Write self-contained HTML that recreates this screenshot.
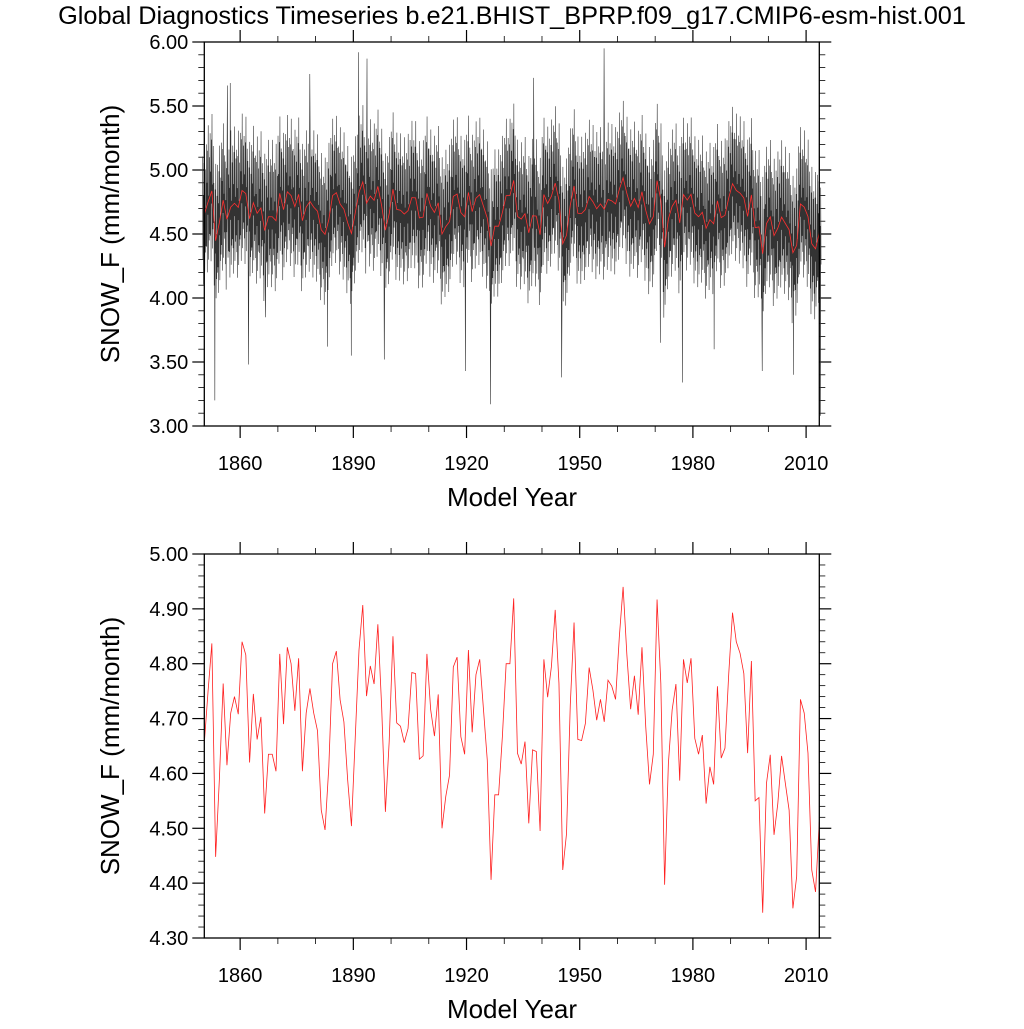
<!DOCTYPE html>
<html><head><meta charset="utf-8"><style>
html,body{margin:0;padding:0;background:#fff;}
svg text{font-family:"Liberation Sans",sans-serif;fill:#000;}
</style></head><body>
<svg id="chart" width="1024" height="1024" viewBox="0 0 1024 1024" xmlns="http://www.w3.org/2000/svg">
<text x="512" y="24" font-size="25.3" text-anchor="middle">Global Diagnostics Timeseries b.e21.BHIST_BPRP.f09_g17.CMIP6-esm-hist.001</text>
<g id="top"></g>
<g id="bot"></g>
</svg>
<script>
const startYear = 1850;
const annualMeans = [4.655,4.75,4.837,4.448,4.59,4.764,4.615,4.71,4.74,4.708,4.84,4.816,4.62,4.745,4.662,4.703,4.527,4.635,4.635,4.604,
4.818,4.69,4.83,4.80,4.714,4.81,4.604,4.71,4.755,4.71,4.678,4.533,4.497,4.612,4.80,4.823,4.734,4.694,4.588,4.504,
4.664,4.825,4.907,4.741,4.796,4.763,4.872,4.722,4.53,4.658,4.85,4.692,4.686,4.656,4.682,4.784,4.782,4.626,4.632,4.818,
4.716,4.668,4.744,4.50,4.558,4.597,4.794,4.812,4.667,4.635,4.825,4.675,4.78,4.808,4.716,4.624,4.406,4.561,4.561,4.667,
4.80,4.80,4.919,4.637,4.617,4.658,4.509,4.643,4.64,4.495,4.808,4.739,4.795,4.898,4.764,4.424,4.49,4.725,4.875,4.662,
4.66,4.691,4.793,4.752,4.697,4.735,4.694,4.77,4.759,4.735,4.849,4.94,4.816,4.717,4.778,4.707,4.83,4.685,4.58,4.635,
4.917,4.764,4.397,4.618,4.716,4.763,4.587,4.808,4.765,4.81,4.664,4.635,4.67,4.545,4.612,4.58,4.759,4.628,4.646,4.782,
4.893,4.84,4.819,4.782,4.637,4.805,4.55,4.556,4.346,4.582,4.634,4.488,4.545,4.632,4.582,4.533,4.354,4.412,4.735,4.71,
4.637,4.424,4.384,4.512];
const monthlyAnomaly = [0.45,-0.35,0.15,-0.55,0.4,-0.1,0.6,-0.45,0.05,-0.3,0.35,-0.25];
const extremeYears  = [1853.3,1856.6,1857.4,1862.2,1866.7,1878.5,1883.1,1889.5,1891.4,1893.6,1898.2,1919.7,1926.4,1937.8,1945.2,1956.5,1971.4,1977.2,1985.6,1998.4,2006.6,2013.8];
const extremeValues = [3.20,5.66,5.68,3.48,3.85,5.75,3.62,3.55,5.92,5.87,3.52,3.43,3.17,5.72,3.38,5.95,3.65,3.34,3.60,3.43,3.40,3.08];
const xTickYears = [1860,1890,1920,1950,1980,2010];
const topYTicks = ["3.00","3.50","4.00","4.50","5.00","5.50","6.00"];
const botYTicks = ["4.30","4.40","4.50","4.60","4.70","4.80","4.90","5.00"];

const NS="http://www.w3.org/2000/svg";
function mk(parent,tag,attrs){const e=document.createElementNS(NS,tag);for(const k in attrs)e.setAttribute(k,attrs[k]);parent.appendChild(e);return e;}
const X0=204.3,X1=819.3,XMIN=1850.5,XMAX=2013.5;
const xs=v=>X0+(v-XMIN)/(XMAX-XMIN)*(X1-X0);

function panel(g,top,bottom,ymin,ymax,yTicks,minorStep){
  const ys=v=>bottom-(v-ymin)/(ymax-ymin)*(bottom-top);
  for(let yr=1860;yr<=2010;yr+=10){
    const x=xs(yr),maj=(yr-1860)%30===0,L=maj?12:6;
    const t1=mk(g,'line',{x1:x,x2:x,y1:bottom,y2:bottom+L,stroke:'#000','stroke-width':maj?1.2:0.8});
    
    
    const t2=mk(g,'line',{x1:x,x2:x,y1:top,y2:top-L,stroke:'#000','stroke-width':maj?1.2:0.8});
    
    
  }
  xTickYears.forEach(yr=>{
    const t=mk(g,'text',{x:xs(yr),y:bottom+44,'font-size':20,'text-anchor':'middle'});t.textContent=yr;
    
    
  });
  const nMin=Math.round((ymax-ymin)/minorStep);
  for(let i=0;i<=nMin;i++){
    const v=ymin+i*minorStep,y=ys(v);
    const maj=yTicks.some(s=>Math.abs(parseFloat(s)-v)<1e-6),L=maj?12:6;
    const a=mk(g,'line',{x1:X0-L,x2:X0,y1:y,y2:y,stroke:'#000','stroke-width':maj?1.2:0.8});
    
    
    const b=mk(g,'line',{x1:X1,x2:X1+L,y1:y,y2:y,stroke:'#000','stroke-width':maj?1.2:0.8});
    
    
  }
  yTicks.forEach(s=>{
    const t=mk(g,'text',{x:X0-16,y:ys(parseFloat(s))+7,'font-size':20,'text-anchor':'end'});t.textContent=s;
    
    
  });
  const xt=mk(g,'text',{x:512,y:bottom+80,'font-size':26,'text-anchor':'middle'});xt.textContent='Model Year';
  
  
  const cy=(top+bottom)/2;
  const yt=mk(g,'text',{x:0,y:0,'font-size':26,'text-anchor':'middle',transform:`translate(119,${cy}) rotate(-90)`});yt.textContent='SNOW_F (mm/month)';
  
  
  return ys;
}

const gt=document.getElementById('top'),gb=document.getElementById('bot');
const ysT=panel(gt,42,426,3,6,topYTicks,0.1);
const pts=[];
annualMeans.forEach((m,i)=>{for(let k=0;k<12;k++){pts.push([startYear+i+(k+0.5)/12,m+monthlyAnomaly[k]]);}});
extremeYears.forEach((yr,j)=>{let best=0,bd=1e9;pts.forEach((p,i)=>{const dd=Math.abs(p[0]-yr);if(dd<bd){bd=dd;best=i;}});pts[best][1]=extremeValues[j];});
let d='';
pts.forEach(p=>{d+=(d?'L':'M')+xs(p[0]).toFixed(2)+','+ysT(p[1]).toFixed(2);});
const ml=mk(gt,'path',{d:d,fill:'none',stroke:'#333','stroke-width':0.6});


let da='';
annualMeans.forEach((m,i)=>{da+=(da?'L':'M')+xs(startYear+i+0.5).toFixed(2)+','+ysT(m).toFixed(2);});
const al=mk(gt,'path',{d:da,fill:'none',stroke:'#ff3030','stroke-width':0.8});


const f1=mk(gt,'rect',{x:X0,y:42,width:X1-X0,height:384,fill:'none',stroke:'#000','stroke-width':1.3});



const ysB=panel(gb,554,938,4.3,5.0,botYTicks,0.02);
let db='';
annualMeans.forEach((m,i)=>{db+=(db?'L':'M')+xs(startYear+i+0.5).toFixed(2)+','+ysB(m).toFixed(2);});
const bl=mk(gb,'path',{d:db,fill:'none',stroke:'#ff2020','stroke-width':0.8});


const f2=mk(gb,'rect',{x:X0,y:554,width:X1-X0,height:384,fill:'none',stroke:'#000','stroke-width':1.3});


</script>
</body></html>
